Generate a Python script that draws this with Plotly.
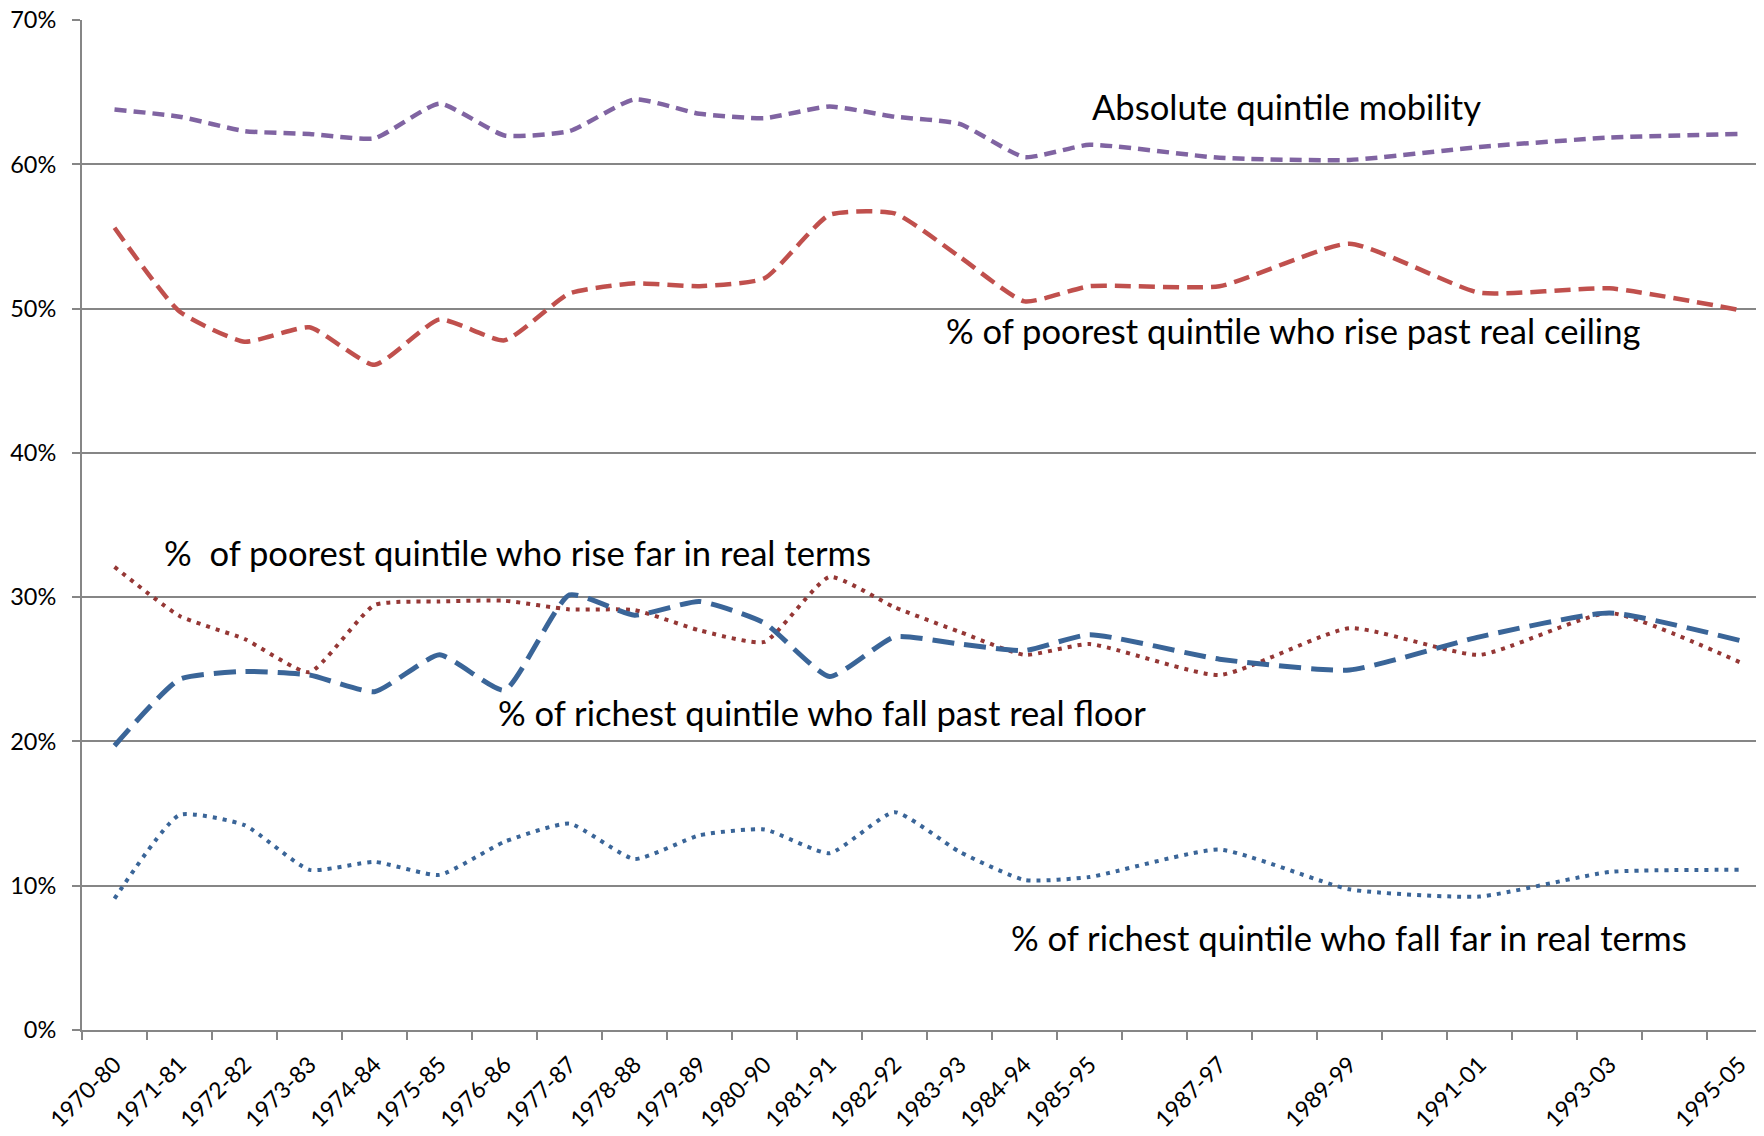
import plotly.graph_objects as go

categories = ["1970-80", "1971-81", "1972-82", "1973-83", "1974-84", "1975-85", "1976-86",
              "1977-87", "1978-88", "1979-89", "1980-90", "1981-91", "1982-92", "1983-93",
              "1984-94", "1985-95", "1986-96", "1987-97", "1988-98", "1989-99", "1990-00",
              "1991-01", "1992-02", "1993-03", "1994-04", "1995-05"]
shown_labels = ["1970-80", "1971-81", "1972-82", "1973-83", "1974-84", "1975-85", "1976-86",
                "1977-87", "1978-88", "1979-89", "1980-90", "1981-91", "1982-92", "1983-93",
                "1984-94", "1985-95", "", "1987-97", "", "1989-99", "",
                "1991-01", "", "1993-03", "", "1995-05"]

absolute_mobility = [63.8, 63.3, 62.3, 62.1, 61.8, 64.2, 62.0, 62.3, 64.5, 63.5, 63.2, 64.0,
                     63.3, 62.8, 60.5, 61.35, None, 60.45, None, 60.3, None, 61.2, None, 61.85,
                     None, 62.1]
poorest_past_ceiling = [55.6, 49.8, 47.7, 48.7, 46.1, 49.25, 47.8, 51.05, 51.75, 51.55, 52.1,
                        56.5, 56.6, 53.6, 50.5, 51.55, None, 51.55, None, 54.5, None, 51.1,
                        None, 51.4, None, 49.9]
poorest_far = [32.1, 28.7, 27.1, 24.8, 29.45, 29.7, 29.75, 29.15, 29.1, 27.7, 26.9, 31.4, 29.3,
               27.6, 26.0, 26.75, None, 24.6, None, 27.85, None, 26.0, None, 28.9, None, 25.5]
richest_past_floor = [19.7, 24.3, 24.85, 24.6, 23.45, 26.0, 23.55, 30.15, 28.75, 29.7, 28.2,
                      24.5, 27.25, 26.75, 26.3, 27.4, None, 25.7, None, 24.95, None, 27.25,
                      None, 28.9, None, 27.0]
richest_far = [9.1, 14.9, 14.2, 11.1, 11.65, 10.75, 13.05, 14.3, 11.85, 13.5, 13.9, 12.25, 15.1,
               12.35, 10.4, 10.6, None, 12.5, None, 9.75, None, 9.25, None, 10.95, None, 11.1]

x = list(range(len(categories)))

def pct(v):
    return [None if a is None else a / 100 for a in v]

series = [
    (absolute_mobility, "#8064A2", 4.5, "12px,7px"),
    (poorest_past_ceiling, "#C0504D", 4.5, "16px,8px"),
    (poorest_far, "#953735", 4, "4px,6px"),
    (richest_past_floor, "#3A6598", 5, "22px,10px"),
    (richest_far, "#3A6598", 4, "4px,6px"),
]

fig = go.Figure()
for vals, color, w, dash in series:
    fig.add_trace(go.Scatter(
        x=x, y=pct(vals), mode="lines", connectgaps=True,
        line=dict(color=color, width=w, dash=dash, shape="spline", smoothing=0.5),
        hoverinfo="skip", showlegend=False))

font = "Lato, Carlito, Calibri, sans-serif"
ann_font = dict(family=font, size=34.6, color="#000000")
labels = [
    ("Absolute quintile mobility", 15.0, 0.640),
    ("% of poorest quintile who rise past real ceiling", 12.76, 0.485),
    ("%  of poorest quintile who rise far in real terms", 0.73, 0.331),
    ("% of richest quintile who fall past real floor", 5.87, 0.220),
    ("% of richest quintile who fall far in real terms", 13.76, 0.064),
]
for text, ax, ay in labels:
    fig.add_annotation(x=ax, y=ay, xref="x", yref="y", text=text.replace("  ", "&nbsp; "),
                       showarrow=False, xanchor="left", yanchor="middle", font=ann_font)

# page body has an 8px margin, so the figure is sized/offset to compensate
fig.update_layout(
    width=1756, height=1128,
    margin=dict(l=74, r=0, t=12, b=106),
    paper_bgcolor="white", plot_bgcolor="white",
    showlegend=False,
)
fig.update_xaxes(
    range=[-0.5, 25.377], automargin=False,
    tickmode="array", tickvals=x, ticktext=shown_labels,
    tickangle=-45, ticks="", ticklabelstandoff=10, ticklabeloverflow="allow",
    tickfont=dict(family=font, size=23, color="#000000"),
    showgrid=False, zeroline=False,
    showline=True, linecolor="#868686", linewidth=2,
    minor=dict(ticks="outside", tickmode="array",
               tickvals=[k - 0.5 for k in range(27)],
               ticklen=8, tickwidth=2, tickcolor="#868686", showgrid=False),
)
fig.update_yaxes(
    range=[0, 0.7], automargin=False,
    tickmode="linear", tick0=0, dtick=0.1, tickformat=".0%",
    tickfont=dict(family=font, size=23.5, color="#000000"),
    ticks="outside", ticklen=8, tickwidth=2, tickcolor="#868686", ticklabelstandoff=11,
    ticklabeloverflow="allow",
    showgrid=True, gridcolor="#868686", gridwidth=2,
    zeroline=False, showline=True, linecolor="#868686", linewidth=2,
)

fig.write_html("out.html")
